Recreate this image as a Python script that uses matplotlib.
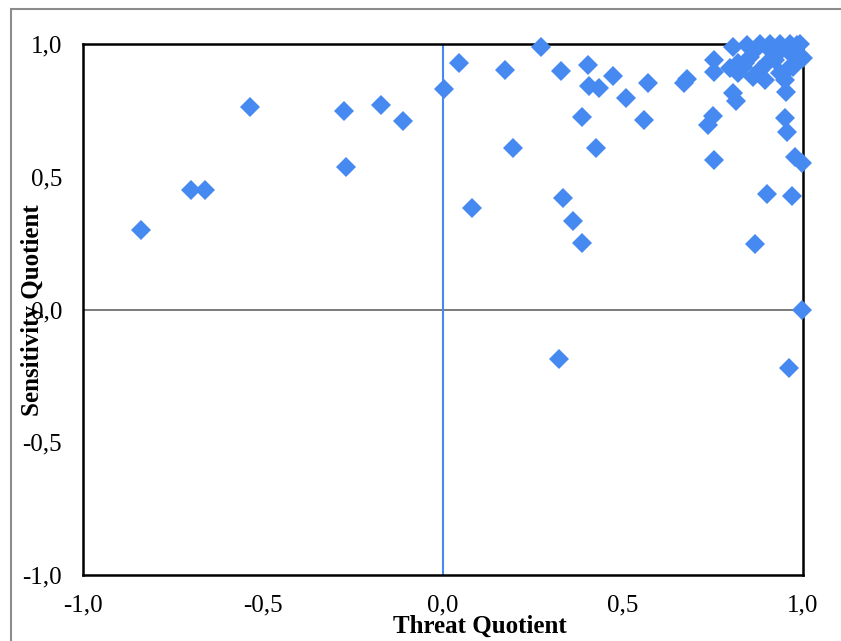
import matplotlib
matplotlib.use("Agg")
import matplotlib.pyplot as plt
from matplotlib.patches import Rectangle
from matplotlib.ticker import FuncFormatter

# threat quotient (x) and sensitivity quotient (y) per item
threat = [
    -0.84, -0.70, -0.66, -0.535, -0.275, -0.27, -0.172, -0.111,
    0.003, 0.044, 0.08, 0.172, 0.194, 0.272, 0.328, 0.322, 0.333, 0.36,
    0.386, 0.386, 0.403, 0.406, 0.433, 0.425, 0.472, 0.508, 0.558, 0.569,
    0.67, 0.678, 0.736, 0.75, 0.753, 0.753, 0.753, 0.867, 0.90,
    0.806, 0.814, 0.953, 0.95, 0.956, 0.978, 0.997, 0.97, 0.997, 0.96,
    0.806, 0.819, 0.861, 0.833, 0.90, 0.936, 0.972, 0.992, 0.936, 0.881,
    0.844, 0.853, 0.908, 0.956, 0.978, 1.0, 0.881, 0.797, 0.819, 0.922,
    0.964, 0.894, 0.95, 0.983, 0.867, 0.908, 0.84, 0.925, 0.96,
]
sensitivity = [
    0.30, 0.45, 0.45, 0.763, 0.748, 0.537, 0.77, 0.71,
    0.83, 0.928, 0.382, 0.902, 0.608, 0.989, 0.898, -0.186, 0.42, 0.333,
    0.25, 0.725, 0.92, 0.84, 0.834, 0.608, 0.88, 0.797, 0.714, 0.853,
    0.853, 0.868, 0.695, 0.729, 0.563, 0.94, 0.895, 0.247, 0.435,
    0.815, 0.785, 0.819, 0.721, 0.669, 0.574, 0.552, 0.427, 0.0, -0.22,
    0.989, 0.891, 0.876, 0.913, 0.928, 0.891, 0.913, 1.0, 1.0, 1.0,
    0.996, 0.951, 0.977, 0.977, 0.951, 0.947, 0.902, 0.91, 0.928, 0.94,
    1.0, 0.864, 0.864, 0.996, 0.977, 1.0, 0.93, 0.96, 0.91,
]

ticks = [-1.0, -0.5, 0.0, 0.5, 1.0]
blue = "#4689F0"

plt.rcParams["font.family"] = ["Liberation Serif", "DejaVu Serif"]

fig = plt.figure(figsize=(8.41, 6.41), dpi=100)
ax = fig.add_axes([83 / 841, 66 / 641, 720 / 841, 531 / 641])

ax.axhline(0, color="#707070", lw=1.3, zorder=1)
ax.axvline(0, color=blue, lw=1.5, zorder=1)
ax.plot(threat, sensitivity, "D", color=blue, markersize=10,
        markeredgewidth=0, linestyle="none", zorder=3, clip_on=False)

ax.set_xlim(-1, 1)
ax.set_ylim(-1, 1)
ax.set_xticks(ticks)
ax.set_yticks(ticks)
fmt = FuncFormatter(lambda v, p: ("%.1f" % v).replace(".", ","))
ax.xaxis.set_major_formatter(fmt)
ax.yaxis.set_major_formatter(fmt)
ax.tick_params(axis="x", length=0, pad=14, labelsize=18)
ax.tick_params(axis="y", length=0, pad=15, labelsize=18)
for s in ax.spines.values():
    s.set_linewidth(1.8)
    s.set_color("black")

fig.text(480 / 841, 1 - 626 / 641, "Threat Quotient", ha="center", va="center",
         fontsize=18, fontweight="bold")
fig.text(33 / 841, 1 - 310 / 641, "Sensitivity Quotient", ha="center", va="center",
         rotation=90, fontsize=18, fontweight="bold")

# outer chart-area border (left and top only visible)
fig.patches.append(Rectangle((11 / 841, -0.5), 2, 1.5 - 9 / 641, transform=fig.transFigure,
                             fill=False, edgecolor="#8c8c8c", lw=1.5))

fig.savefig("out.png", dpi=100)
